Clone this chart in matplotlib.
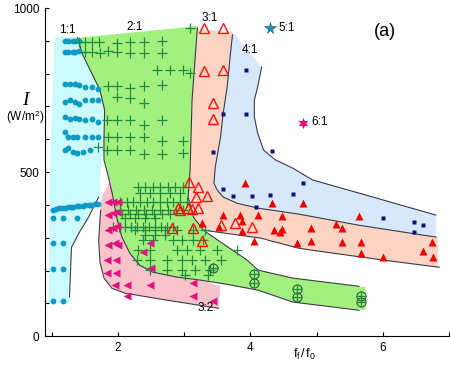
import matplotlib
matplotlib.use("Agg")
import matplotlib.pyplot as plt
import numpy as np

plt.rcParams['font.family'] = ['Liberation Sans', 'DejaVu Sans']
plt.rcParams['mathtext.fontset'] = 'custom'
plt.rcParams['mathtext.rm'] = 'Liberation Sans'
plt.rcParams['mathtext.it'] = 'Liberation Serif:italic'

# ---- region outlines (f_f/f_0, I) ----
cyan_x = [1.045, 1.39, 1.47, 1.73, 1.80, 1.80, 1.76, 1.73, 1.74, 1.71, 1.55, 1.42, 1.30, 1.27, 1.27, 0.955, 0.97]
cyan_y = [912, 912, 857, 750, 689, 598, 537, 476, 410, 424, 360, 317, 271, 119, 101, 101, 476]

green_x = [1.39, 3.20, 3.20, 3.12, 3.09, 3.06, 3.14, 3.29, 3.55, 3.95, 4.12, 4.64, 5.74, 5.74,
           4.64, 4.12, 3.62, 3.24, 2.89, 2.53, 2.33, 2.18, 2.06, 1.98, 1.92, 1.85, 1.79, 1.79, 1.80, 1.73, 1.47]
green_y = [909, 945, 933, 720, 506, 424, 363, 323, 287, 232, 201, 177, 149, 79,
           104, 140, 159, 171, 180, 195, 216, 253, 302, 363, 430, 491, 537, 598, 689, 750, 857]

salmon_x = [3.20, 3.73, 3.73, 3.70, 3.65, 3.59, 3.55, 3.47, 3.45, 3.50, 3.59, 3.80, 4.12, 4.73, 5.64, 6.83,
            6.83, 6.00, 5.14, 4.73, 4.15, 3.29, 3.14, 3.06, 3.09, 3.12]
salmon_y = [936, 927, 918, 863, 759, 680, 607, 515, 466, 445, 424, 405, 390, 372, 338, 302,
            210, 232, 256, 268, 299, 323, 363, 424, 506, 720]

blue_x = [3.73, 4.17, 4.11, 4.06, 4.06, 4.11, 4.20, 4.38, 4.64, 4.94, 5.64, 6.80, 6.80,
          5.64, 4.73, 4.12, 3.80, 3.59, 3.50, 3.45, 3.47, 3.55, 3.59, 3.65, 3.70]
blue_y = [927, 820, 759, 720, 668, 619, 567, 537, 512, 476, 436, 369, 302,
          338, 372, 390, 405, 424, 445, 466, 515, 607, 680, 759, 863]

pink_x = [1.91, 1.76, 1.73, 1.71, 1.73, 1.79, 1.91, 2.11, 2.64, 3.52, 3.55,
          3.24, 2.89, 2.53, 2.33, 2.18, 2.06, 1.98, 1.92]
pink_y = [482, 427, 369, 293, 226, 177, 146, 131, 113, 85, 152,
          171, 180, 195, 216, 253, 302, 363, 430]

# boundary lines
line1_x = [1.39, 1.47, 1.73, 1.80, 1.79, 1.79, 1.85, 1.92, 1.98, 2.06, 2.18, 2.33, 2.53, 2.89, 3.24, 3.62, 4.12, 4.64, 5.64]
line1_y = [909, 857, 750, 689, 598, 537, 491, 430, 363, 302, 253, 216, 195, 180, 171, 159, 140, 104, 79]
line2_x = [1.71, 1.55, 1.42, 1.30, 1.27]
line2_y = [424, 360, 317, 271, 119]
line3_x = [3.20, 3.12, 3.09, 3.06, 3.14, 3.29, 3.55, 3.95, 4.12, 4.64, 5.64]
line3_y = [940, 720, 506, 424, 363, 323, 287, 232, 201, 177, 152]
line4_x = [3.73, 3.70, 3.65, 3.59, 3.55, 3.47, 3.45, 3.50, 3.59, 3.80, 4.12, 4.73, 5.64, 6.80]
line4_y = [918, 863, 759, 680, 607, 515, 466, 445, 424, 405, 390, 372, 338, 302]
line5_x = [3.29, 4.15, 4.73, 5.14, 6.00, 6.85]
line5_y = [323, 299, 268, 256, 232, 210]
line6_x = [4.17, 4.11, 4.06, 4.06, 4.11, 4.20, 4.38, 4.64, 4.94, 5.64, 6.80]
line6_y = [820, 759, 720, 668, 619, 567, 537, 512, 476, 436, 369]
line7_x = [1.74, 1.71, 1.73, 1.79, 1.91, 2.11, 2.64, 3.52]
line7_y = [384, 293, 226, 177, 146, 131, 113, 85]

# ---- 1:1 points ----
dot_x = [1.20, 1.24, 1.32, 1.36, 1.41,
         1.20, 1.24, 1.32, 1.36, 1.41,
         1.20, 1.27, 1.35, 1.42, 1.50, 1.61, 1.70,
         1.20, 1.27, 1.35, 1.42, 1.50, 1.61, 1.70,
         1.20, 1.27, 1.35, 1.42, 1.50, 1.61, 1.70,
         1.20, 1.24, 1.32, 1.39, 1.50, 1.61, 1.70,
         1.20, 1.24, 1.32, 1.39, 1.47, 1.58,
         1.02, 1.06, 1.11, 1.15, 1.20, 1.24, 1.29, 1.33, 1.38, 1.42, 1.47, 1.51, 1.56, 1.60, 1.65, 1.70,
         1.02, 1.17, 1.38, 1.02, 1.17, 1.02, 1.17, 1.02, 1.17]
dot_y = [899, 899, 899, 899, 899,
         866, 866, 866, 866, 869,
         768, 768, 768, 765, 759, 759, 753,
         713, 720, 713, 707, 720, 720, 720,
         668, 662, 665, 662, 659, 662, 652,
         622, 607, 607, 607, 607, 607, 607,
         567, 573, 561, 558, 561, 567,
         386, 388, 390, 391, 392, 393, 394, 395, 396, 397, 398, 399, 400, 401, 402, 404,
         360, 360, 360, 283, 283, 204, 204, 107, 107]

# ---- 2:1 points ----
plus_x = [1.42, 1.50, 1.61, 1.71, 1.98, 2.18, 2.39, 2.67, 3.09,
          1.50, 1.61, 1.73, 1.85, 1.98, 2.18, 2.39, 2.67,
          2.59, 2.79, 2.98, 3.09,
          1.85, 1.98, 2.18, 2.39, 2.67,
          1.98, 2.18, 2.39,
          1.83, 1.98, 2.18, 2.39, 2.67,
          1.85, 1.98, 2.18, 2.39, 2.67, 2.98,
          1.70, 1.83, 1.98, 2.18, 2.39, 2.67, 2.98,
          2.30, 2.41, 2.53, 2.64, 2.76, 2.86, 2.98,
          2.33, 2.48, 2.64, 2.79, 2.94,
          2.03, 2.14, 2.23, 2.33, 2.44, 2.53, 2.64, 2.74, 2.83, 2.94, 3.05,
          2.03, 2.15, 2.27, 2.39, 2.52, 2.64, 2.76, 2.88, 2.98,
          2.06, 2.18, 2.30, 2.42, 2.55, 2.67, 2.79,
          2.11, 2.26, 2.41, 2.56,
          1.92, 2.02, 2.11, 2.20, 2.29, 2.38, 2.47, 2.56, 2.65, 2.74, 2.83,
          2.26, 2.41, 2.56, 2.71, 2.89, 3.14, 3.32,
          2.41, 2.56, 2.71,
          2.38, 2.53, 2.83, 2.97, 3.14, 3.29,
          2.30, 2.48, 2.89, 3.05, 3.24, 3.50,
          2.29, 2.48, 2.74, 2.97, 3.12, 3.32, 3.55,
          2.48, 2.74, 2.97, 3.17, 3.39,
          3.02, 3.36, 3.80]
plus_y = [896, 896, 896, 896, 893, 896, 896, 899, 939,
          866, 866, 863, 869, 866, 863, 863, 863,
          811, 811, 811, 802,
          762, 762, 756, 762, 765,
          729, 726, 710,
          659, 659, 659, 643, 659,
          607, 607, 607, 607, 595, 595,
          576, 567, 567, 567, 555, 555, 558,
          454, 454, 454, 454, 454, 454, 454,
          436, 436, 436, 436, 436,
          409, 409, 409, 409, 409, 409, 409, 409, 409, 409, 409,
          384, 384, 384, 384, 384, 384, 384, 384, 384,
          372, 372, 372, 372, 372, 372, 372,
          360, 360, 360, 360,
          332, 332, 332, 332, 332, 332, 332, 332, 332, 332, 332,
          323, 323, 323, 323, 323, 323, 323,
          308, 308, 308,
          293, 293, 293, 293, 293, 293,
          262, 262, 262, 262, 262, 262,
          232, 232, 232, 232, 232, 232, 232,
          201, 201, 201, 201, 201,
          186, 186, 262]
oplus_x = [3.44, 4.05, 4.05, 4.71, 4.71, 5.67, 5.67]
oplus_y = [207, 189, 162, 143, 119, 122, 104]

# ---- 3:1 points ----
open_tri_x = [3.30, 3.58, 3.30, 3.58, 3.44, 3.44, 3.08, 3.21, 3.18, 3.35,
              2.91, 2.94, 3.06, 3.12, 3.21, 2.82, 3.14, 3.27, 3.77, 4.03, 3.55]
open_tri_y = [939, 939, 808, 811, 710, 662, 470, 454, 424, 427,
              390, 384, 390, 387, 390, 329, 329, 290, 345, 332, 338]
fill_tri_x = [3.92, 3.58, 3.27, 3.52, 3.85, 3.88, 4.05, 4.33, 4.79, 4.12, 4.48, 3.88, 4.35, 4.48,
              4.45, 4.91, 5.29, 5.39, 5.64, 4.71, 4.91, 5.39, 5.67, 5.67, 6.00, 6.61, 6.74, 6.76]
fill_tri_y = [466, 369, 345, 332, 369, 320, 290, 405, 405, 369, 366, 351, 323, 326,
              317, 329, 341, 329, 366, 284, 290, 287, 287, 253, 241, 259, 287, 241]

# ---- 4:1 points ----
sq_x = [3.94, 3.59, 3.94, 3.44, 4.32, 3.59, 3.74, 4.02, 4.08, 4.80, 4.29, 4.64, 6.00, 6.47, 6.61, 6.47]
sq_y = [811, 677, 677, 561, 564, 448, 427, 427, 393, 466, 430, 433, 360, 348, 338, 317]

# ---- 3:2 points ----
ltri_x = [1.85, 1.92, 2.00, 1.85, 1.92, 1.98, 1.85, 1.92, 1.98, 1.85, 1.95, 2.00, 1.83, 1.97,
          1.83, 1.97, 1.95, 2.14, 2.14, 2.48, 2.38, 2.50, 2.48, 3.14, 3.14, 3.44]
ltri_y = [409, 409, 409, 369, 375, 378, 323, 329, 335, 277, 284, 277, 232, 232,
          192, 192, 155, 155, 122, 284, 256, 207, 155, 162, 122, 107]

# ---- 5:1 and 6:1 ----
star5 = (4.30, 939)
star6 = (4.80, 649)

fig = plt.figure(figsize=(4.5, 3.65), dpi=100)
ax = fig.add_axes([0.1, 0.079, 0.898, 0.899])

ax.fill(cyan_x, cyan_y, color='#cbfbfd', lw=0, zorder=1)
ax.fill(green_x, green_y, color='#a2f07d', lw=0, zorder=1)
ax.fill(salmon_x, salmon_y, color='#fbd4c4', lw=0, zorder=1)
ax.fill(blue_x, blue_y, color='#d7e8fa', lw=0, zorder=1)
ax.fill(pink_x, pink_y, color='#f9c3cb', lw=0, zorder=1)

for lx, ly in [(line1_x, line1_y), (line2_x, line2_y), (line3_x, line3_y), (line4_x, line4_y),
               (line5_x, line5_y), (line6_x, line6_y), (line7_x, line7_y)]:
    ax.plot(lx, ly, color='#3a3a4a', lw=0.8, zorder=2)

ax.plot(dot_x, dot_y, 'o', color='#0d9bc6', ms=4.2, mec='none', zorder=3)
ax.plot(plus_x, plus_y, '+', color='#228a3e', ms=7, mew=0.9, zorder=3)
ax.plot(oplus_x, oplus_y, 'o', mfc='none', mec='#2d5a3a', ms=6.5, mew=0.8, zorder=3)
ax.plot(oplus_x, oplus_y, '+', color='#228a3e', ms=6.5, mew=0.9, zorder=3)
ax.plot(open_tri_x, open_tri_y, '^', mfc='none', mec='#ff1010', ms=6.5, mew=1.0, zorder=3)
ax.plot(fill_tri_x, fill_tri_y, '^', color='#f00000', ms=5.5, mec='none', zorder=3)
ax.plot(sq_x, sq_y, 's', color='#10107a', ms=3, mec='none', zorder=3)
ax.plot(ltri_x, ltri_y, '<', color='#e2127c', ms=5.5, mec='none', zorder=3)
ax.plot(*star5, '*', color='#1a92b8', ms=8.5, mec='#105070', mew=0.4, zorder=3)
ax.plot(*star6, marker=(6, 1, 0), color='#e01070', ms=8, mec='none', zorder=3)

ax.text(1.23, 933, '1:1', fontsize=8.5, ha='center', va='center')
ax.text(2.26, 942, '2:1', fontsize=8.5, ha='center', va='center')
ax.text(3.39, 970, '3:1', fontsize=8.5, ha='center', va='center')
ax.text(4.00, 872, '4:1', fontsize=8.5, ha='center', va='center')
ax.text(4.42, 939, '5:1', fontsize=8.5, ha='left', va='center')
ax.text(4.92, 652, '6:1', fontsize=8.5, ha='left', va='center')
ax.text(3.20, 85, '3:2', fontsize=8.5, ha='left', va='center')
ax.text(6.03, 927, '(a)', fontsize=13, ha='center', va='center')

ax.set_xlim(0.9, 7.0)
ax.set_ylim(0, 1000)
ax.spines['top'].set_visible(False)
ax.spines['right'].set_visible(False)
ax.set_xticks([1, 2, 3, 4, 5, 6, 7])
ax.set_xticklabels(['', '2', '', '4', '', '6', ''])
ax.set_yticks(np.arange(0, 1001, 100))
ax.set_yticklabels(['0', '', '', '', '', '500', '', '', '', '', '1000'])
ax.tick_params(direction='in', length=3, width=0.8, labelsize=8.5, pad=4)

fig.text(0.056, 0.726, 'I', fontsize=14, family='Liberation Serif', style='italic', ha='center', va='center')
fig.text(0.056, 0.68, '(W/m$^2$)', fontsize=8.5, ha='center', va='center')
fig.text(0.676, 0.03, r'$\mathrm{f_f\,/\,f_0}$', fontsize=9, ha='center', va='center')

fig.savefig('out.png', dpi=100)
